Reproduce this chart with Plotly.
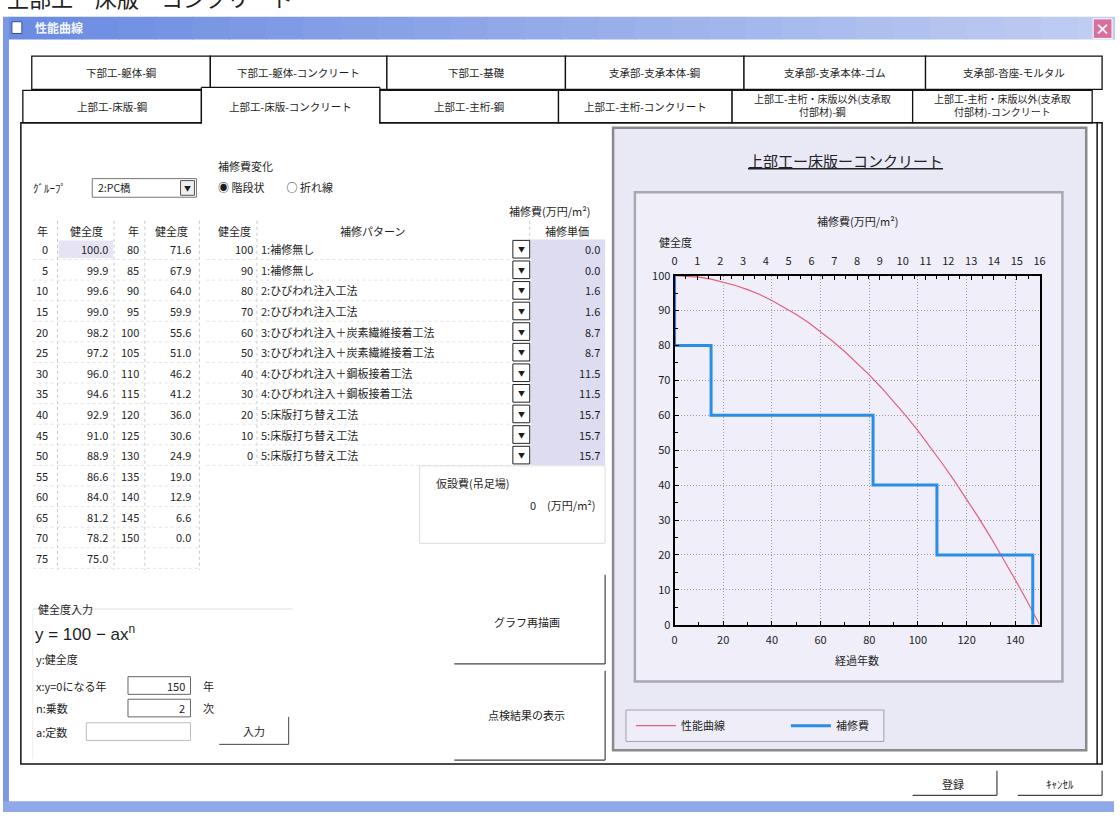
import plotly.graph_objects as go

W, H = 1120, 819
FONT = "Noto Sans CJK JP"

# ---------------- data ----------------
years_a = [0, 5, 10, 15, 20, 25, 30, 35, 40, 45, 50, 55, 60, 65, 70, 75]
health_a = [100.0, 99.9, 99.6, 99.0, 98.2, 97.2, 96.0, 94.6, 92.9, 91.0, 88.9, 86.6, 84.0, 81.2, 78.2, 75.0]
years_b = [80, 85, 90, 95, 100, 105, 110, 115, 120, 125, 130, 135, 140, 145, 150]
health_b = [71.6, 67.9, 64.0, 59.9, 55.6, 51.0, 46.2, 41.2, 36.0, 30.6, 24.9, 19.0, 12.9, 6.6, 0.0]

repair_health = [100, 90, 80, 70, 60, 50, 40, 30, 20, 10, 0]
repair_pattern = ["1:補修無し", "1:補修無し", "2:ひびわれ注入工法", "2:ひびわれ注入工法",
                  "3:ひびわれ注入＋炭素繊維接着工法", "3:ひびわれ注入＋炭素繊維接着工法",
                  "4:ひびわれ注入＋鋼板接着工法", "4:ひびわれ注入＋鋼板接着工法",
                  "5:床版打ち替え工法", "5:床版打ち替え工法", "5:床版打ち替え工法"]
repair_cost = [0.0, 0.0, 1.6, 1.6, 8.7, 8.7, 11.5, 11.5, 15.7, 15.7, 15.7]

tabs_row1 = ["下部工-躯体-鋼", "下部工-躯体-コンクリート", "下部工-基礎",
             "支承部-支承本体-鋼", "支承部-支承本体-ゴム", "支承部-沓座-モルタル"]
tabs_row2 = ["上部工-床版-鋼", "上部工-床版-コンクリート", "上部工-主桁-鋼", "上部工-主桁-コンクリート",
             "上部工-主桁・床版以外(支承取<br>付部材)-鋼", "上部工-主桁・床版以外(支承取<br>付部材)-コンクリート"]

chart_title = "上部工ー床版ーコンクリート"
year_ticks = [0, 20, 40, 60, 80, 100, 120, 140]
health_ticks = [0, 10, 20, 30, 40, 50, 60, 70, 80, 90, 100]
cost_ticks = list(range(0, 17))

# ---------------- helpers ----------------
def X(p):
    return p / W

def Y(p):
    return 1 - p / H

shapes = []
annotations = []

def rect(x0, y0, x1, y1, fill=None, lc=None, lw=1, dash=None):
    ln = dict(width=lw if lc else 0, color=lc or "rgba(0,0,0,0)")
    if dash:
        ln["dash"] = dash
    d = dict(type="rect", xref="paper", yref="paper", x0=X(x0), x1=X(x1), y0=Y(y1), y1=Y(y0),
             layer="below", line=ln)
    if fill:
        d["fillcolor"] = fill
    shapes.append(d)

def seg(x0, y0, x1, y1, color="#000", lw=1, dash=None):
    ln = dict(width=lw, color=color)
    if dash:
        ln["dash"] = dash
    shapes.append(dict(type="line", xref="paper", yref="paper", x0=X(x0), x1=X(x1), y0=Y(y0), y1=Y(y1),
                       layer="below", line=ln))

def T(x, y, s, size=11, color="#1e1e1e", xa="center", ya="middle", family=FONT, yshift=0):
    annotations.append(dict(x=X(x), y=Y(y), xref="paper", yref="paper", text=s, showarrow=False,
                            xanchor=xa, yanchor=ya, yshift=yshift,
                            font=dict(size=size, color=color, family=family)))

# ---------------- window chrome ----------------
# heading of the page above the dialog (only its lower edge shows)
T(2, 0, chart_title + "　ー　ー　ー　ー　ー", size=22, color="#222", xa="left", ya="middle", yshift=12)

# title bar gradient
n = 30
c0 = (108, 140, 226)
c1 = (192, 205, 242)
for i in range(n):
    t = i / (n - 1)
    c = tuple(int(c0[k] + (c1[k] - c0[k]) * t) for k in range(3))
    xa0 = 5 + (1120 - 5) * i / n
    xa1 = 5 + (1120 - 5) * (i + 1) / n + 1
    rect(xa0, 8, xa1, 31, fill="rgb(%d,%d,%d)" % c)
rect(0, 8, 6, 819, fill="#7b98e4")
rect(0, 808, 1120, 819, fill="#8fa8ea")
rect(9, 13, 19, 25, fill="#ffffff", lc="#3050a0", lw=1)
T(30, 19, "<b>性能曲線</b>", size=12, color="#f4f6ff", xa="left")
rect(1099, 10, 1118, 30, fill="#d8709e", lc="#ffffff", lw=1)
T(1108.5, 20, "<b>×</b>", size=15, color="#ffffff")

# tab panel
rect(18, 116, 1108, 770, fill="#ffffff", lc="#111", lw=1.5)
seg(1103, 116, 1103, 770, "#111", 1.5)

# row 1 tabs
row1_edges = [29, 209, 387, 567, 747, 930, 1108]
for i, name in enumerate(tabs_row1):
    x0, x1 = row1_edges[i], row1_edges[i + 1]
    rect(x0, 48, x1, 82, fill="#ffffff", lc="#111", lw=1.3)
    T((x0 + x1) / 2, 65, name, size=10.5)

# row 2 tabs
row2_edges = [20, 200, 380, 560, 735, 917, 1098]
for i, name in enumerate(tabs_row2):
    x0, x1 = row2_edges[i], row2_edges[i + 1]
    if i == 1:
        rect(x0, 80, x1, 118, fill="#ffffff")
        seg(x0, 80, x1, 80, "#111", 1.3)
        seg(x0, 80, x0, 117, "#111", 1.3)
        seg(x1, 80, x1, 117, "#111", 1.3)
    else:
        rect(x0, 83, x1, 116, fill="#ffffff", lc="#111", lw=1.3)
    multi = "<br>" in name
    T((x0 + x1) / 2, 99 if not multi else 98, name, size=10.5 if not multi else 10)

# ---------------- left controls ----------------
T(28, 183, "ｸﾞﾙｰﾌﾟ", size=11, xa="left")
rect(90, 173, 195, 192, fill="#ffffff", lc="#777", lw=1)
T(94, 182.5, "2:PC橋", size=10.5, xa="left")
rect(179, 175, 193, 190, fill="#f0f0f0", lc="#555", lw=1)
T(186, 182.5, "▼", size=7)

T(215, 160, "補修費変化", size=11, xa="left")
T(215, 182, "◉ 階段状　　○ 折れ線", size=11, xa="left")

# left table (year / health)
row0 = 245
step = 21.0
T(40, 226, "年", size=11)
T(84, 226, "健全度", size=11)
T(132, 226, "年", size=11)
T(170, 226, "健全度", size=11)
for xv in [55, 112, 143, 198]:
    seg(xv, 216, xv, 572, "#c8c8c8", 1, "dot")
rect(56, row0 - 9, 111, row0 + 9, fill="#e6e4f4")
for i in range(len(years_a)):
    yy = row0 + step * i
    T(47, yy, str(years_a[i]), size=11, xa="right")
    T(108, yy, "%.1f" % health_a[i], size=11, xa="right")
    seg(30, yy + 10.5, 198, yy + 10.5, "#e2e2e2", 1, "dot")
for i in range(len(years_b)):
    yy = row0 + step * i
    T(139, yy, str(years_b[i]), size=11, xa="right")
    T(192, yy, "%.1f" % health_b[i], size=11, xa="right")

# middle table (health / repair pattern / cost)
T(233, 226, "健全度", size=11)
T(372, 226, "補修パターン", size=11)
T(551, 206, "補修費(万円/m²)", size=11)
T(569, 226, "補修単価", size=11)
seg(256, 216, 256, 464, "#c8c8c8", 1, "dot")
seg(531, 216, 531, 464, "#c8c8c8", 1, "dot")
rect(532, row0 - 10, 607, row0 + step * 10 + 10, fill="#dddcf0")
for i in range(len(repair_health)):
    yy = row0 + step * i
    T(254, yy, str(repair_health[i]), size=11, xa="right")
    T(258, yy, repair_pattern[i], size=11, xa="left")
    rect(514, yy - 9, 531, yy + 9, fill="#ffffff", lc="#222", lw=1)
    T(522.5, yy, "▼", size=7)
    T(604, yy, "%.1f" % repair_cost[i], size=11, xa="right")
    seg(205, yy + 10.5, 514, yy + 10.5, "#e4e4e4", 1, "dot")

# temporary cost box
rect(420, 466, 607, 545, lc="#dddddd", lw=1)
T(434, 483, "仮設費(吊足場)", size=11, xa="left")
T(600, 506, "0　(万円/m²)", size=11, xa="right")

# health input group
seg(30, 612, 292, 612, "#dddddd", 1)
seg(30, 612, 30, 765, "#eeeeee", 1)
T(33, 612, "健全度入力", size=11, xa="left")
T(30, 636, "y = 100 − ax<sup>n</sup>", size=17, xa="left", family="Liberation Sans")
T(31, 663, "y:健全度", size=11, xa="left")
T(31, 690, "x:y=0になる年", size=11, xa="left")
rect(126, 681, 189, 699, fill="#ffffff", lc="#666", lw=1)
T(185, 690, "150", size=11, xa="right")
T(200, 690, "年", size=11, xa="left")
T(31, 713, "n:乗数", size=11, xa="left")
rect(126, 704, 189, 722, fill="#ffffff", lc="#666", lw=1)
T(185, 713, "2", size=11, xa="right")
T(200, 713, "次", size=11, xa="left")
T(31, 737, "a:定数", size=11, xa="left")
rect(84, 728, 189, 746, fill="#ffffff", lc="#bbb", lw=1)
rect(218, 722, 288, 750, fill="#ffffff")
seg(218, 750, 288, 750, "#444", 1)
seg(288, 722, 288, 750, "#444", 1)
T(253, 736, "入力", size=11)

# right-side buttons
rect(455, 577, 607, 668, fill="#ffffff")
seg(455, 668, 607, 668, "#444", 1.2)
seg(607, 577, 607, 668, "#444", 1.2)
T(528, 625, "グラフ再描画", size=11)
rect(455, 675, 607, 766, fill="#ffffff")
seg(455, 766, 607, 766, "#444", 1.2)
seg(607, 675, 607, 766, "#444", 1.2)
T(528, 720, "点検結果の表示", size=11)

# bottom buttons
rect(917, 777, 1002, 802, fill="#ffffff")
seg(917, 802, 1002, 802, "#444", 1.2)
seg(1002, 777, 1002, 802, "#444", 1.2)
T(958, 790, "登録", size=11)
rect(1023, 777, 1108, 802, fill="#ffffff")
seg(1023, 802, 1108, 802, "#444", 1.2)
seg(1108, 777, 1108, 802, "#444", 1.2)
T(1066, 790, "ｷｬﾝｾﾙ", size=11)

# ---------------- chart panels ----------------
rect(615, 121, 1092, 756, fill="#e9e8f5", lc="#8a8a8a", lw=2.5)
T(849, 155, "<u>" + chart_title + "</u>", size=15, color="#222")
rect(637, 187, 1068, 686, fill="#efeef9", lc="#a8a8b0", lw=2.5)
T(861, 216, "補修費(万円/m²)", size=11)
T(678, 238, "健全度", size=11)
T(861, 664, "経過年数", size=11)
rect(628, 715, 888, 747, fill="#efeef8", lc="#a0a0a8", lw=1)

# ---------------- traces ----------------
fig = go.Figure()
fig.add_trace(go.Scatter(x=years_a + years_b, y=health_a + health_b, mode="lines",
                         line=dict(color="#e0607c", width=1.2), name="性能曲線",
                         xaxis="x", yaxis="y"))
fig.add_trace(go.Scatter(x=repair_cost, y=repair_health, mode="lines",
                         line=dict(color="#2a8de6", width=3, shape="vh"), name="補修費",
                         xaxis="x2", yaxis="y"))

xd = [X(677), X(1045)]
yd = [Y(628), Y(272)]
tickfont = dict(family=FONT, size=11, color="#1e1e1e")

fig.update_layout(
    width=W, height=H,
    margin=dict(l=0, r=0, t=0, b=0),
    paper_bgcolor="#ffffff",
    plot_bgcolor="rgba(0,0,0,0)",
    font=dict(family=FONT, size=11, color="#1e1e1e"),
    shapes=shapes,
    annotations=annotations,
    showlegend=True,
    legend=dict(orientation="h", x=X(633), y=Y(731), xanchor="left", yanchor="middle",
                bgcolor="rgba(0,0,0,0)", borderwidth=0, font=dict(family=FONT, size=11),
                entrywidth=100, entrywidthmode="pixels", itemwidth=40),
    xaxis=dict(domain=xd, range=[0, 150], tickvals=year_ticks, showgrid=True,
               gridcolor="#9a9aae", griddash="1px,2px", gridwidth=1, zeroline=False,
               showline=True, linecolor="#000", linewidth=2, ticks="inside", ticklen=4,
               tickcolor="#000", tickfont=tickfont, ticklabelstandoff=4,
               minor=dict(dtick=10, ticks="inside", ticklen=3, tickcolor="#000", showgrid=False),
               anchor="y", fixedrange=True),
    xaxis2=dict(overlaying="x", side="top", range=[0, 16], tickvals=cost_ticks,
                showgrid=False, zeroline=False, showline=True, linecolor="#000", linewidth=2,
                ticks="inside", ticklen=4, tickcolor="#000", tickfont=tickfont, ticklabelstandoff=4,
                minor=dict(dtick=0.5, ticks="inside", ticklen=3, tickcolor="#000", showgrid=False),
                anchor="y", fixedrange=True),
    yaxis=dict(domain=yd, range=[0, 100], tickvals=health_ticks, showgrid=True,
               gridcolor="#9a9aae", griddash="1px,2px", gridwidth=1, zeroline=False,
               showline=True, linecolor="#000", linewidth=2, mirror=True,
               ticks="inside", ticklen=4, tickcolor="#000", tickfont=tickfont,
               minor=dict(dtick=5, ticks="inside", ticklen=3, tickcolor="#000", showgrid=False),
               anchor="x", fixedrange=True),
)

fig.write_html("out.html", config={"displayModeBar": False},
               post_script="document.body.style.margin='0';document.body.style.overflow='hidden';")
